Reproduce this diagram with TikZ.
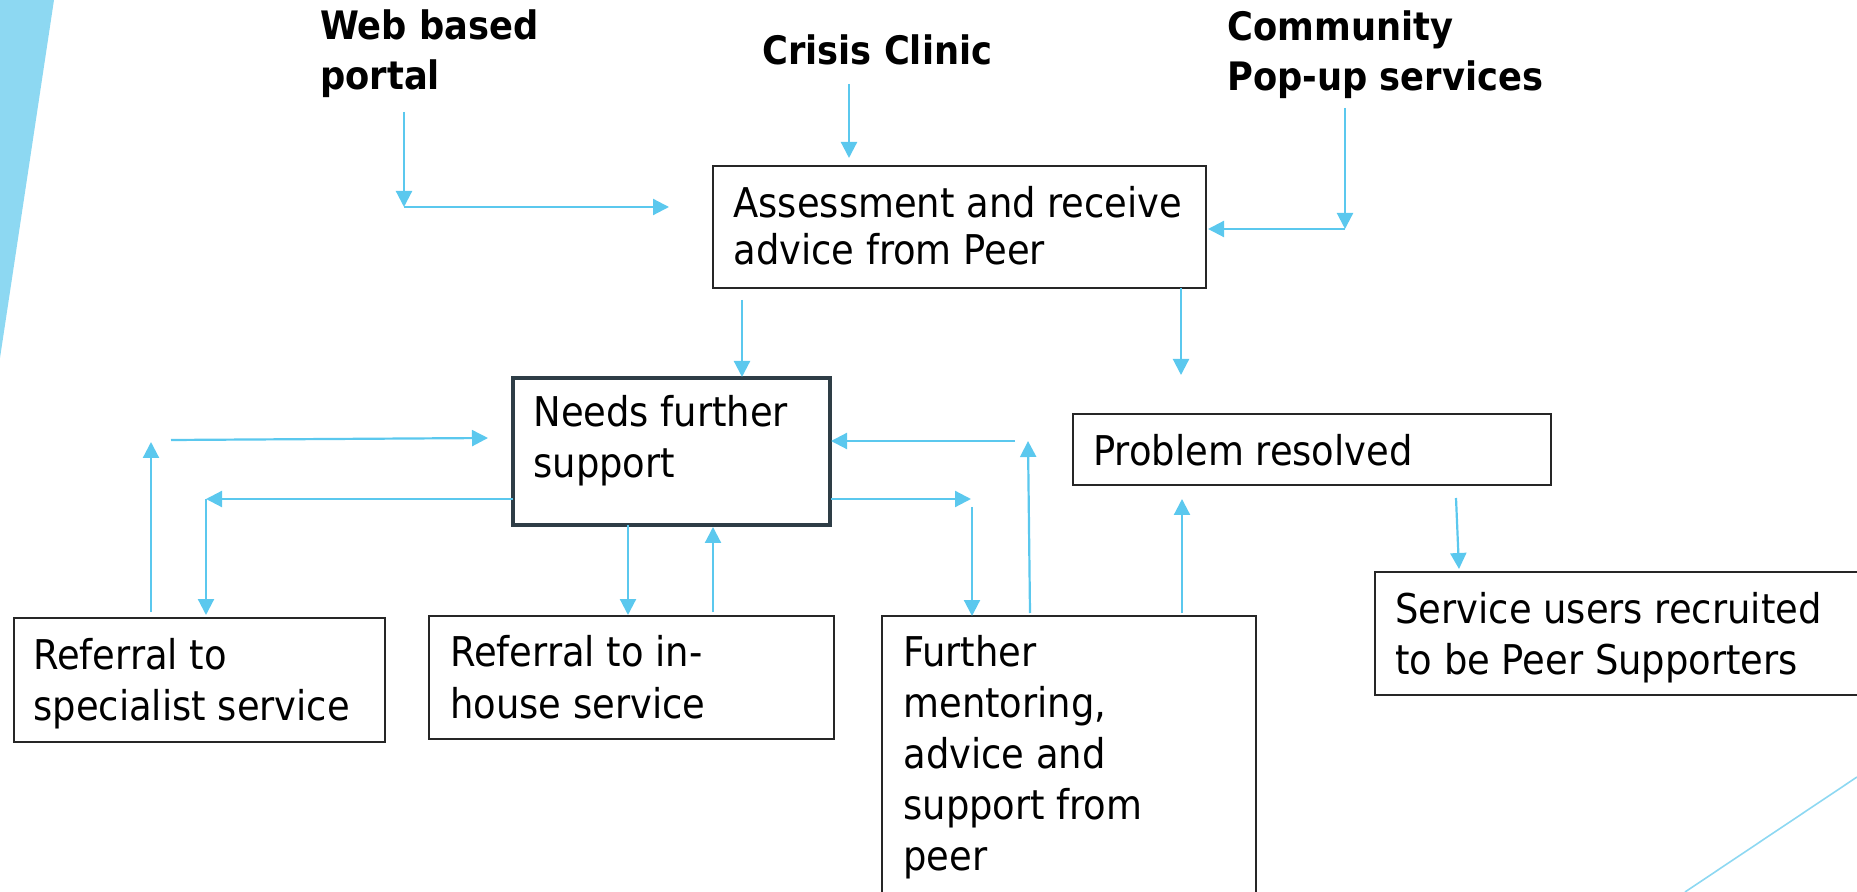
\documentclass[tikz,border=0pt]{standalone}
\usepackage{fontspec}
\setmainfont{DejaVu Sans Condensed}
\usetikzlibrary{arrows.meta,fit}
\definecolor{flow}{HTML}{5BC8EE}
\definecolor{accent}{HTML}{8DD8F2}
\definecolor{slate}{HTML}{2E3D46}
\tikzset{
  box/.style={draw=black!85, line width=0.75pt, inner sep=0pt, fill=white},
  keybox/.style={box, draw=slate, line width=1.9pt},
  % texts are placed by the baseline of their last line
  txt/.style={anchor=base west, inner sep=0pt, align=left,
    font=\fontsize{20.5pt}{25.5pt}\selectfont},
  head/.style={txt, font=\fontsize{19.6pt}{25pt}\selectfont\bfseries},
  flowarrow/.style={draw=flow, line width=1.1pt, -{Triangle[length=8pt,width=8pt]}},
}
\begin{document}
\begin{tikzpicture}[x=0.5pt,y=-0.5pt]
\useasboundingbox (0,0) rectangle (1857,892);
\clip (0,0) rectangle (1857,892);

% corner decorations
\fill[accent] (0,0) -- (54,0) -- (0,358) -- cycle;
\draw[accent, line width=0.8pt] (1685,892) -- (1857,777);

% boxes
\node[box, fit={(713,166) (1206,288)}] (assess) {};
\node[keybox, fit={(513,378) (830,525)}] (needs) {};
\node[box, fit={(1073,414) (1551,485)}] (resolved) {};
\node[box, fit={(14,618) (385,742)}] (specialist) {};
\node[box, fit={(429,616) (834,739)}] (inhouse) {};
\node[box, fit={(882,616) (1256,910)}] (mentor) {};
\node[box, fit={(1375,572) (1870,695)}] (recruit) {};

% texts
\node[head] (web) at (320,90) {Web based\\portal};
\node[head] (crisis) at (762,65) {Crisis Clinic};
\node[head] (community) at (1227,90.7) {Community\\Pop-up services};
\node[txt, font=\fontsize{20.5pt}{23.75pt}\selectfont] (assess-t) at (733,265) {Assessment and receive\\advice from Peer};
\node[txt] (needs-t) at (533,478) {Needs further\\support};
\node[txt] (resolved-t) at (1093,466) {Problem resolved};
\node[txt] (specialist-t) at (33,720) {Referral to\\specialist service};
\node[txt, font=\fontsize{20.5pt}{26pt}\selectfont] (inhouse-t) at (450,718) {Referral to in-\\house service};
\node[txt] (mentor-t) at (903,870) {Further\\mentoring,\\advice and\\support from\\peer};
\node[txt] (recruit-t) at (1395,674) {Service users recruited\\to be Peer Supporters};

% connector end points
\coordinate (w1) at (404,112);  \coordinate (w2) at (404,207);  \coordinate (w3) at (669,207);
\coordinate (c1) at (849,84);   \coordinate (c2) at (849,158);
\coordinate (p1) at (1345,108); \coordinate (p2) at (1345,229); \coordinate (p3) at (1208,229);
\coordinate (a1) at (742,300);  \coordinate (a2) at (742,377);
\coordinate (a3) at (1181,288); \coordinate (a4) at (1181,375);
\coordinate (l1) at (513,499);  \coordinate (l2) at (206,499);  \coordinate (l3) at (206,615);
\coordinate (s1) at (151,612);  \coordinate (s2) at (151,442);
\coordinate (s3) at (171,440);  \coordinate (s4) at (488,438);
\coordinate (h1) at (628,525);  \coordinate (h2) at (628,615);
\coordinate (h3) at (713,612);  \coordinate (h4) at (713,527);
\coordinate (r1) at (831,499);  \coordinate (r2) at (971,499);
\coordinate (r3) at (972,507);  \coordinate (r4) at (972,616);
\coordinate (m1) at (1030,613); \coordinate (m2) at (1028,441);
\coordinate (m3) at (1015,441); \coordinate (m4) at (831,441);
\coordinate (m5) at (1182,613); \coordinate (m6) at (1182,499);
\coordinate (q1) at (1456,498); \coordinate (q2) at (1459,569);

% connectors
\draw[flowarrow] (w1) -- (w2);
\draw[flowarrow] (w2) -- (w3);
\draw[flowarrow] (c1) -- (c2);
\draw[flowarrow] (p1) -- (p2);
\draw[flowarrow] (p2) -- (p3);
\draw[flowarrow] (a1) -- (a2);
\draw[flowarrow] (a3) -- (a4);
\draw[flowarrow] (l1) -- (l2);
\draw[flowarrow] (l2) -- (l3);
\draw[flowarrow] (s1) -- (s2);
\draw[flowarrow] (s3) -- (s4);
\draw[flowarrow] (h1) -- (h2);
\draw[flowarrow] (h3) -- (h4);
\draw[flowarrow] (r1) -- (r2);
\draw[flowarrow] (r3) -- (r4);
\draw[flowarrow] (m1) -- (m2);
\draw[flowarrow] (m3) -- (m4);
\draw[flowarrow] (m5) -- (m6);
\draw[flowarrow] (q1) -- (q2);
\end{tikzpicture}
\end{document}
